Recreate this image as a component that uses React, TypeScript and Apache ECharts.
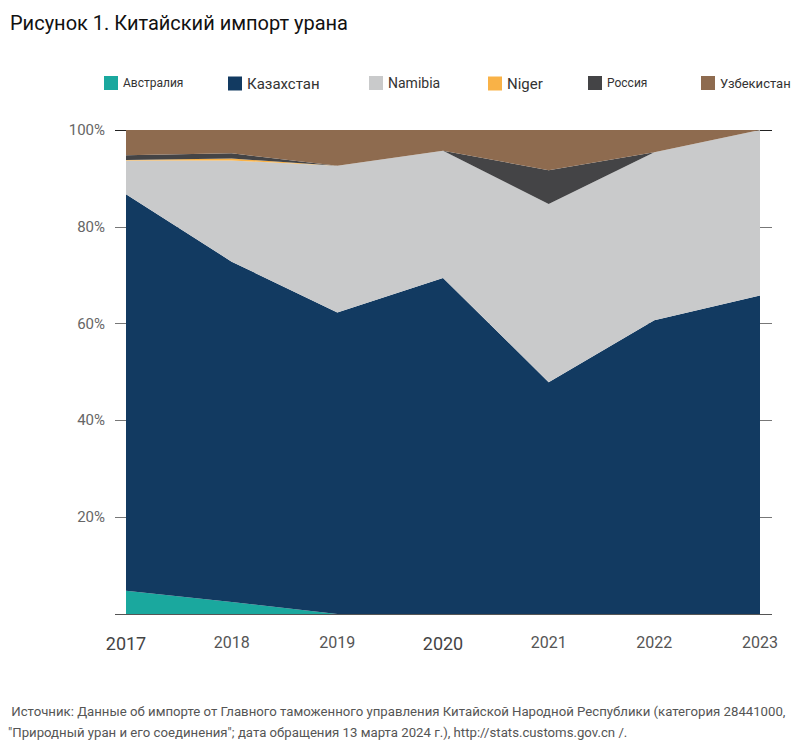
import React, { useEffect, useRef } from 'react';
import * as echarts from 'echarts';

const years = ['2017', '2018', '2019', '2020', '2021', '2022', '2023'];
const australia = [4.8, 2.5, 0, 0, 0, 0, 0];
const kazakhstan = [81.9, 70.3, 62.3, 69.4, 47.9, 60.7, 65.8];
const namibia = [7.0, 20.9, 30.3, 26.3, 36.8, 34.7, 34.2];
const niger = [0.1, 0.4, 0, 0, 0, 0, 0];
const russia = [1.0, 1.1, 0, 0, 7.0, 0, 0];
const uzbekistan = [5.2, 4.8, 7.4, 4.3, 8.3, 4.6, 0];
const yTicks = [0, 20, 40, 60, 80, 100];

const FONT = 'Roboto, "Noto Sans", sans-serif';

const App: React.FC = () => {
  const chartRef = useRef<HTMLDivElement | null>(null);

  useEffect(() => {
    document.body.style.margin = '0';
    const chart = echarts.init(chartRef.current!, undefined, { renderer: 'svg' });

    const seriesDefs = [
      { name: 'Австралия', data: australia, color: '#1aa89e' },
      { name: 'Казахстан', data: kazakhstan, color: '#123a61' },
      { name: 'Namibia', data: namibia, color: '#c9cacb' },
      { name: 'Niger', data: niger, color: '#f9b247' },
      { name: 'Россия', data: russia, color: '#444446' },
      { name: 'Узбекистан', data: uzbekistan, color: '#8e6b4f' },
    ];

    // one legend per item so each can sit where the original puts it
    const legendSpots = [
      { left: 99, size: 12 },
      { left: 223, size: 15 },
      { left: 364, size: 14 },
      { left: 483, size: 15 },
      { left: 583, size: 12 },
      { left: 696, size: 13 },
    ];

    const option = {
      animation: false,
      title: {
        text: 'Рисунок 1. Китайский импорт урана',
        left: 5,
        top: 8,
        textStyle: { fontFamily: FONT, fontSize: 20, fontWeight: 'normal', color: '#111' },
      },
      legend: seriesDefs.map((s, i) => ({
        data: [s.name],
        left: legendSpots[i].left,
        top: 71,
        itemWidth: 14,
        itemHeight: 14,
        icon: 'rect',
        textStyle: { fontFamily: FONT, fontSize: legendSpots[i].size, color: '#333' },
      })),
      grid: [
        { left: 115, right: 29, top: 130, bottom: 133 },
        { left: 126, right: 41, top: 130, bottom: 133 },
      ],
      xAxis: [
        { type: 'value', gridIndex: 0, show: false, min: 0, max: 1 },
        {
          type: 'category',
          gridIndex: 1,
          data: years,
          boundaryGap: false,
          axisLine: { show: false },
          axisTick: { show: false },
          axisLabel: {
            margin: 20,
            fontFamily: FONT,
            formatter: (v: string) => (v === '2017' || v === '2020' ? `{big|${v}}` : `{n|${v}}`),
            rich: {
              big: { fontSize: 18, color: '#444', fontFamily: FONT },
              n: { fontSize: 16, color: '#555', fontFamily: FONT },
            },
          },
        },
      ],
      yAxis: [
        {
          type: 'value',
          gridIndex: 0,
          min: yTicks[0],
          max: yTicks[yTicks.length - 1],
          interval: 20,
          axisLine: { show: false },
          axisTick: { show: false },
          axisLabel: {
            margin: 10,
            fontFamily: FONT,
            fontSize: 15,
            color: '#666',
            formatter: (v: number) => (v === 0 ? '' : `${v}%`),
          },
          splitLine: {
            show: true,
            lineStyle: { color: ['#555', '#777', '#777', '#777', '#777', '#222'], width: 1.2 },
          },
        },
        { type: 'value', gridIndex: 1, min: 0, max: 100, show: false },
      ],
      series: seriesDefs.map((s) => ({
        name: s.name,
        type: 'line',
        xAxisIndex: 1,
        yAxisIndex: 1,
        stack: 'total',
        data: s.data,
        symbol: 'none',
        lineStyle: { width: 0 },
        itemStyle: { color: s.color },
        areaStyle: { color: s.color, opacity: 1 },
        z: 3,
      })),
      graphic: [
        {
          type: 'text',
          left: 8,
          top: 701,
          style: {
            text:
              ' Источник: Данные об импорте от Главного таможенного управления Китайской Народной Республики (категория 28441000,\n"Природный уран и его соединения"; дата обращения 13 марта 2024 г.), http://stats.customs.gov.cn /.',
            fontFamily: FONT,
            fontSize: 13.2,
            lineHeight: 21,
            fill: '#555',
          },
        },
      ],
    };

    chart.setOption(option);
    return () => {
      chart.dispose();
    };
  }, []);

  return <div ref={chartRef} style={{ width: '801px', height: '747px' }} />;
};

export default App;
